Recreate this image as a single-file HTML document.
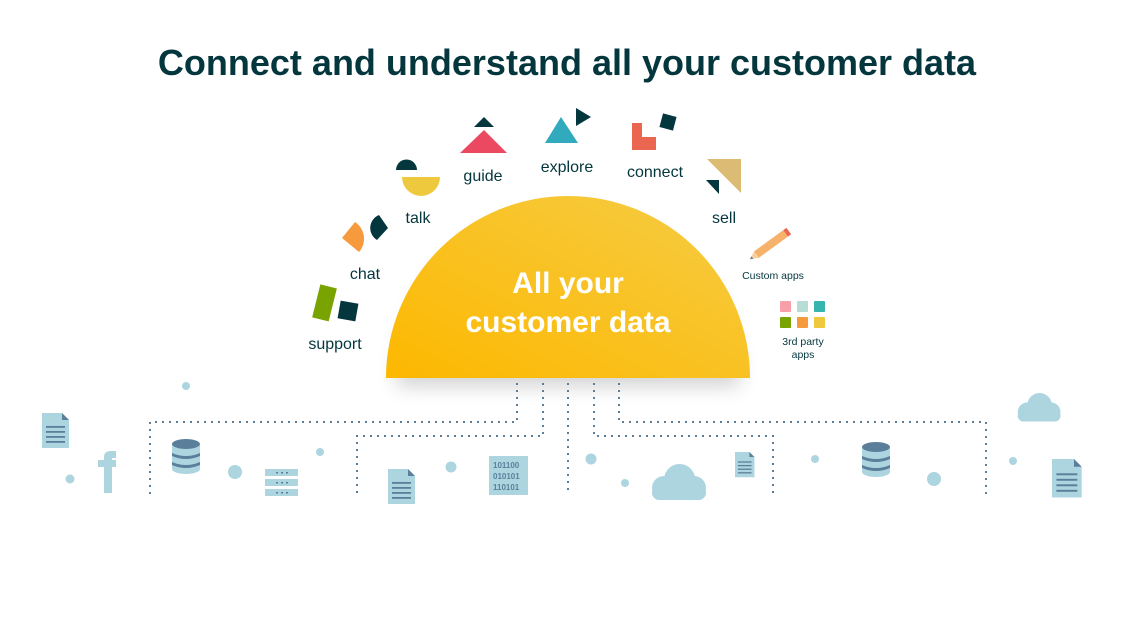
<!DOCTYPE html>
<html><head><meta charset="utf-8"><style>
html,body{margin:0;padding:0;background:#fff;}
svg{display:block;}
text{font-family:"Liberation Sans",sans-serif;}
</style></head><body>
<svg width="1134" height="635" viewBox="0 0 1134 635" xmlns="http://www.w3.org/2000/svg">
<defs>
<linearGradient id="g" x1="0" y1="1" x2="1" y2="0">
<stop offset="0" stop-color="#fdb800"/><stop offset="1" stop-color="#f5cc45"/>
</linearGradient>
<filter id="sh" x="-20%" y="-20%" width="140%" height="160%">
<feGaussianBlur stdDeviation="10"/>
</filter>
<g id="doc"><path d="M0 0H20L27 7V35H0Z" fill="#add5e0"/><path d="M20 0L27 7H20Z" fill="#5b7f9b"/>
<rect x="4" y="13" width="19" height="1.8" fill="#5b7f9b"/><rect x="4" y="18" width="19" height="1.8" fill="#5b7f9b"/><rect x="4" y="23" width="19" height="1.8" fill="#5b7f9b"/><rect x="4" y="28" width="19" height="1.8" fill="#5b7f9b"/></g>
<g id="db"><ellipse cx="14" cy="30" rx="14" ry="5" fill="#add5e0"/><rect x="0" y="5" width="28" height="25" fill="#add5e0"/>
<ellipse cx="14" cy="5" rx="14" ry="5" fill="#5b7f9b"/>
<path d="M0 14Q14 20 28 14V17Q14 23 0 17Z" fill="#5b7f9b"/><path d="M0 23Q14 29 28 23V26Q14 32 0 26Z" fill="#5b7f9b"/></g>
<g id="cloud" fill="#add5e0"><circle cx="15" cy="20" r="10"/><circle cx="28" cy="13" r="13"/><circle cx="40" cy="20" r="10"/><rect x="5" y="18" width="45" height="12" rx="6"/></g>
</defs>
<text x="567" y="75" text-anchor="middle" font-size="36" font-weight="bold" fill="#03363d">Connect and understand all your customer data</text>

<path d="M396 380A172 172 0 0 1 740 380Z" fill="#000" opacity="0.18" filter="url(#sh)" transform="translate(0,6)"/>
<path d="M386 378A182 182 0 0 1 750 378Z" fill="url(#g)"/>
<text x="568" y="293" text-anchor="middle" font-size="30" font-weight="bold" fill="#fff">All your</text>
<text x="568" y="332" text-anchor="middle" font-size="30" font-weight="bold" fill="#fff">customer data</text>

<g font-size="16" fill="#03363d" text-anchor="middle">
<text x="335" y="349">support</text><text x="365" y="279">chat</text><text x="418" y="223">talk</text>
<text x="483" y="181">guide</text><text x="567" y="172">explore</text><text x="655" y="177">connect</text><text x="724" y="223">sell</text>
</g>
<text x="773" y="279" font-size="10.5" fill="#03363d" text-anchor="middle">Custom apps</text>
<text x="803" y="345" font-size="10.5" fill="#03363d" text-anchor="middle">3rd party</text>
<text x="803" y="358" font-size="10.5" fill="#03363d" text-anchor="middle">apps</text>

<rect x="316" y="286" width="17" height="34" fill="#78a300" transform="rotate(14 325 303)"/>
<rect x="339" y="302" width="18" height="18" fill="#03363d" transform="rotate(10 348 311)"/>
<path d="M342 238L355 222A20 20 0 0 1 359 252Z" fill="#f79a3e"/>
<path d="M379 215L388 228L377 240A14 14 0 0 1 379 215Z" fill="#03363d"/>
<path d="M396 170A10 10 0 0 1 417 170Z" fill="#03363d"/>
<path d="M402 177H440A19 19 0 0 1 402 177Z" fill="#efc93d"/>
<path d="M474 127L484 117L494 127Z" fill="#03363d"/>
<path d="M460 153L484 130L507 153Z" fill="#eb4962"/>
<path d="M545 143L561 117L578 143Z" fill="#30aabc"/>
<path d="M576 108L591 117L576 126Z" fill="#03363d"/>
<path d="M632 123H642V137H656V150H632Z" fill="#eb6651"/>
<rect x="661" y="115" width="14" height="14" fill="#03363d" transform="rotate(15 668 122)"/>
<path d="M707 159H741V193Z" fill="#dcbb74"/>
<path d="M706 180H719V194Z" fill="#03363d"/>
<g transform="rotate(-36 771 244)"><rect x="753" y="240" width="36" height="8" fill="#f6b26b"/><rect x="789" y="240" width="4" height="8" fill="#eb6651"/><path d="M753 240L745 244L753 248Z" fill="#f6d0a0"/><path d="M748 242.5L745 244L748 245.5Z" fill="#5b7f9b"/></g>
<rect x="780" y="301" width="11" height="11" rx="1" fill="#f8a0a8"/><rect x="797" y="301" width="11" height="11" rx="1" fill="#b7dbd5"/><rect x="814" y="301" width="11" height="11" rx="1" fill="#35b5ad"/>
<rect x="780" y="317" width="11" height="11" rx="1" fill="#78a300"/><rect x="797" y="317" width="11" height="11" rx="1" fill="#f79a3e"/><rect x="814" y="317" width="11" height="11" rx="1" fill="#efc93d"/>

<g fill="none" stroke="#5b7f9b" stroke-width="2" stroke-dasharray="2 5">
<path d="M517 383V422H150V495"/>
<path d="M543 383V436H357V495"/>
<path d="M568 383V492"/>
<path d="M594 383V436H773V495"/>
<path d="M619 383V422H986V495"/>
</g>

<g fill="#add5e0">
<circle cx="186" cy="386" r="4"/><circle cx="70" cy="479" r="4.5"/><circle cx="235" cy="472" r="7"/><circle cx="320" cy="452" r="4"/>
<circle cx="451" cy="467" r="5.5"/><circle cx="591" cy="459" r="5.5"/><circle cx="625" cy="483" r="4"/><circle cx="815" cy="459" r="4"/>
<circle cx="934" cy="479" r="7"/><circle cx="1013" cy="461" r="4"/>
</g>
<use href="#doc" x="42" y="413"/>
<use href="#doc" x="388" y="469"/>
<g transform="translate(735,452) scale(0.72)"><use href="#doc"/></g>
<g transform="translate(1052,459) scale(1.1)"><use href="#doc"/></g>
<path d="M104 493V467H98V460H104V457Q104 451 111 451H116V458H112V460H116V467H112V493Z" fill="#add5e0"/>
<use href="#db" x="172" y="439"/>
<use href="#db" x="862" y="442"/>
<g fill="#add5e0"><rect x="265" y="469" width="33" height="7"/><rect x="265" y="479" width="33" height="7"/><rect x="265" y="489" width="33" height="7"/></g>
<g fill="#5b7f9b"><rect x="276" y="472" width="2" height="1.5"/><rect x="281" y="472" width="2" height="1.5"/><rect x="286" y="472" width="2" height="1.5"/><rect x="276" y="482" width="2" height="1.5"/><rect x="281" y="482" width="2" height="1.5"/><rect x="286" y="482" width="2" height="1.5"/><rect x="276" y="492" width="2" height="1.5"/><rect x="281" y="492" width="2" height="1.5"/><rect x="286" y="492" width="2" height="1.5"/></g>
<rect x="489" y="456" width="39" height="39" fill="#add5e0"/>
<g font-size="8" fill="#5b7f9b" font-weight="bold"><text x="493" y="468">101100</text><text x="493" y="479">010101</text><text x="493" y="490">110101</text></g>
<g transform="translate(646,464) scale(1.2)"><use href="#cloud"/></g>
<g transform="translate(1013,393) scale(0.95)"><use href="#cloud"/></g>
</svg>
</body></html>
